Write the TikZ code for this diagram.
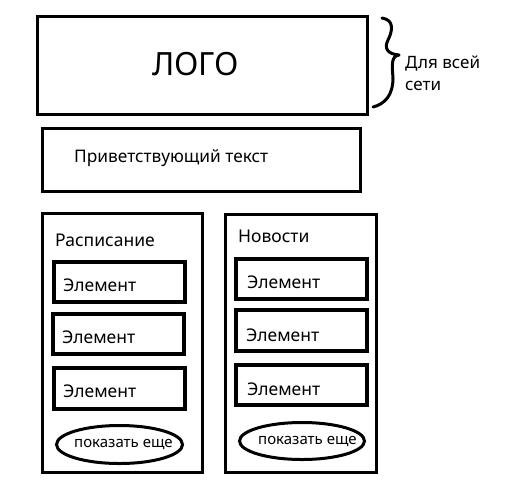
\documentclass[tikz,border=0pt]{standalone}
\usepackage{fontspec}
\setmainfont{Noto Sans}
\usetikzlibrary{shapes.geometric}
\begin{document}
\begin{tikzpicture}[x=1pt,y=-1pt,
  frame/.style={draw, rectangle, line width=3pt, inner sep=0pt},
  elem/.style={draw, rectangle, line width=4pt, inner sep=0pt, minimum width=131pt, minimum height=40pt},
  oval/.style={draw, ellipse, line width=3pt, inner sep=0pt, minimum width=126pt, minimum height=38pt},
  txt/.style={anchor=base west, inner sep=0pt, font=\fontsize{17.5}{20}\selectfont},
  small/.style={anchor=base west, inner sep=0pt, font=\fontsize{15}{18}\selectfont}]
\useasboundingbox (0,0) rectangle (508,499);
% boxes
\node[frame, line width=3.5pt, minimum width=330pt, minimum height=98pt] (logo) at (202.5,65.5) {};
\node[frame, minimum width=318pt, minimum height=63pt] (welcome) at (201.5,160) {};
\node[frame, minimum width=160pt, minimum height=259pt] (sched) at (122.5,343) {};
\node[frame, minimum width=151pt, minimum height=258pt] (news) at (301,343.5) {};
\node[elem] (s1) at (119.5,282) {};
\node[elem] (s2) at (118.5,334) {};
\node[elem, minimum height=41pt] (s3) at (119.5,388.5) {};
\node[elem] (n1) at (301.5,279) {};
\node[elem, minimum height=41pt] (n2) at (301,330.5) {};
\node[elem] (n3) at (301.5,384.5) {};
\node[oval] (smore) at (119.5,444.5) {};
\node[oval, minimum width=125pt, minimum height=37pt] (nmore) at (302,441) {};
% texts
\node[anchor=base west, inner sep=0pt, font=\fontsize{32}{36}\selectfont] (logot) at (152,75.5) {ЛОГО};
\node[txt, font=\fontsize{17.3}{20}\selectfont] (welcomet) at (74,162) {Приветствующий текст};
\node[txt] (schedt) at (55,246) {Расписание};
\node[txt] (newst) at (238,242) {Новости};
\node[txt] (s1t) at (63,291) {Элемент};
\node[txt] (s2t) at (62,343) {Элемент};
\node[txt] (s3t) at (63,397) {Элемент};
\node[txt] (n1t) at (247,288.5) {Элемент};
\node[txt] (n2t) at (246,341) {Элемент};
\node[txt] (n3t) at (247,395) {Элемент};
\node[small] (smoret) at (74,447.5) {показать еще};
\node[small] (nmoret) at (258,444.5) {показать еще};
\node[txt, font=\fontsize{17}{20}\selectfont] (all1) at (405,68) {Для всей};
\node[txt, font=\fontsize{17}{20}\selectfont] (all2) at (405,90) {сети};
% brace
\coordinate (btop) at (382,18);
\coordinate (btip) at (399,55);
\coordinate (bbot) at (373,107);
\draw[line width=3pt, line cap=round, line join=round]
  (btop) .. controls (394,20) and (393,30) .. (388,40)
  .. controls (384,48) and (387,54) .. (btip);
\draw[line width=3pt, line cap=round, line join=round]
  (btip) .. controls (391,56) and (392,65) .. (393,78)
  .. controls (393,95) and (385,104) .. (bbot);
\end{tikzpicture}
\end{document}
